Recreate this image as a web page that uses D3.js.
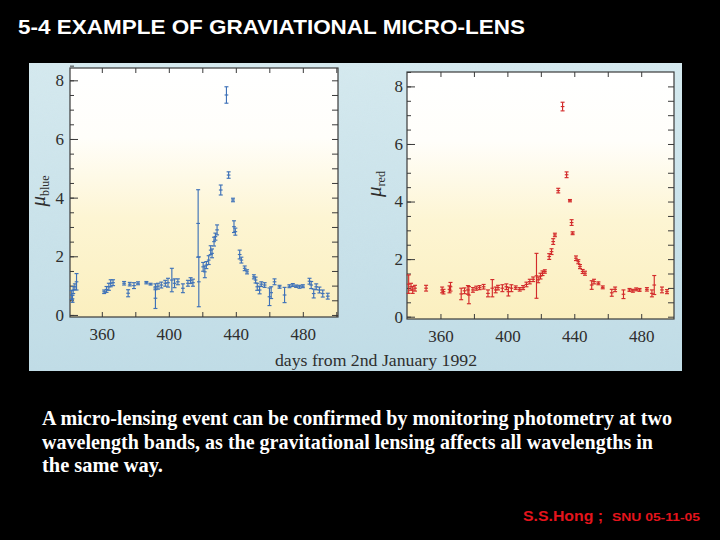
<!DOCTYPE html>
<html>
<head>
<meta charset="utf-8">
<script src="https://cdn.jsdelivr.net/npm/d3@7"></script>
<style>
  html, body { margin: 0; padding: 0; background: #000; }
  svg { display: block; }
</style>
</head>
<body>
<svg id="chart" width="720" height="540"></svg>
<script>
// ---------------- DATA ----------------
const blueDay = [342.0, 342.5, 342.9, 343.9, 344.9, 361.4, 362.8, 364.2, 365.3, 366.7,
  373.3, 375.7, 376.7, 379.2, 381.6, 386.6, 389.1, 392.0, 392.0, 393.5,
  395.5, 397.9, 399.5, 401.8, 403.4, 405.4, 408.4, 411.4, 413.0, 414.4,
  417.5, 417.9, 420.5, 421.5, 422.4, 423.8, 425.0, 425.8, 427.0, 427.8,
  428.8, 431.0, 434.4, 435.7, 438.3, 438.9, 439.7, 442.3, 443.3, 445.3,
  446.7, 450.8, 451.8, 452.8, 454.2, 455.2, 457.2, 460.1, 461.1, 463.1,
  466.1, 469.1, 472.0, 474.0, 476.0, 478.0, 480.0, 484.0, 485.0, 486.5,
  488.0, 489.9, 491.9, 494.9];
const blueVal = [0.68, 0.55, 0.85, 0.96, 1.13, 0.79, 0.87, 0.96, 1.08, 1.10,
  1.08, 0.74, 1.05, 1.00, 1.08, 1.10, 1.05, 0.57, 0.96, 0.98,
  1.02, 1.08, 1.10, 1.19, 1.08, 1.13, 0.91, 1.08, 1.17, 1.10,
  3.12, 1.13, 1.64, 1.47, 1.70, 1.87, 2.21, 2.10, 2.50, 2.67,
  2.90, 4.26, 7.50, 4.77, 3.92, 3.01, 2.84, 2.06, 1.87, 1.59,
  1.47, 1.30, 1.19, 0.96, 0.85, 1.05, 1.02, 0.62, 0.76, 1.13,
  0.96, 0.68, 0.98, 1.02, 0.98, 0.96, 0.98, 1.15, 1.02, 0.73,
  0.96, 0.85, 0.73, 0.64];
const blueErr = [0.15, 0.12, 0.12, 0.10, 0.28, 0.06, 0.10, 0.12, 0.12, 0.10,
  0.06, 0.12, 0.06, 0.10, 0.05, 0.04, 0.03, 0.35, 0.10, 0.10,
  0.10, 0.10, 0.15, 0.40, 0.15, 0.10, 0.15, 0.10, 0.10, 0.12,
  1.15, 0.85, 0.15, 0.20, 0.12, 0.15, 0.15, 0.15, 0.15, 0.12,
  0.17, 0.17, 0.28, 0.11, 0.06, 0.20, 0.12, 0.15, 0.10, 0.08,
  0.07, 0.07, 0.10, 0.12, 0.13, 0.08, 0.08, 0.30, 0.20, 0.10,
  0.05, 0.26, 0.05, 0.05, 0.04, 0.05, 0.05, 0.10, 0.12, 0.15,
  0.10, 0.10, 0.12, 0.10];

const redDay = [341.0, 342.4, 343.4, 344.8, 351.4, 361.0, 361.8, 365.4, 366.0, 372.4,
  374.4, 376.4, 377.0, 379.4, 381.4, 383.4, 385.8, 388.4, 391.0, 393.0,
  394.4, 397.0, 399.4, 400.6, 402.4, 405.0, 407.4, 409.4, 411.4, 413.4,
  415.4, 417.4, 418.4, 419.8, 421.0, 422.4, 425.0, 426.4, 427.4, 428.4,
  430.4, 433.0, 435.4, 437.4, 438.4, 439.0, 441.0, 442.4, 443.4, 445.0,
  446.4, 450.4, 451.8, 454.4, 457.0, 462.4, 464.4, 469.4, 473.0, 475.0,
  477.0, 479.0, 483.4, 486.4, 487.8, 492.4, 495.4];
const redVal = [1.13, 1.04, 0.93, 0.99, 0.99, 0.93, 0.87, 0.95, 1.04, 0.79,
  0.90, 0.93, 0.75, 0.93, 0.99, 1.01, 1.04, 0.81, 0.99, 0.93,
  1.01, 0.99, 1.04, 0.87, 0.99, 1.01, 0.95, 1.01, 1.12, 1.22,
  1.30, 1.42, 1.28, 1.41, 1.51, 1.57, 2.09, 2.26, 2.61, 2.84,
  4.38, 7.30, 4.93, 4.03, 3.27, 2.90, 2.03, 1.91, 1.74, 1.57,
  1.51, 1.10, 1.22, 1.16, 1.02, 0.83, 0.95, 0.78, 0.93, 0.90,
  0.95, 0.93, 0.95, 0.81, 1.10, 0.93, 0.87];
const redErr = [0.32, 0.12, 0.12, 0.10, 0.10, 0.10, 0.08, 0.12, 0.15, 0.20,
  0.10, 0.15, 0.30, 0.08, 0.07, 0.07, 0.08, 0.12, 0.30, 0.10,
  0.08, 0.12, 0.10, 0.15, 0.12, 0.06, 0.06, 0.07, 0.08, 0.08,
  0.08, 0.78, 0.10, 0.10, 0.08, 0.06, 0.10, 0.10, 0.10, 0.06,
  0.08, 0.15, 0.10, 0.04, 0.10, 0.05, 0.08, 0.07, 0.07, 0.07,
  0.07, 0.15, 0.08, 0.05, 0.05, 0.12, 0.08, 0.15, 0.05, 0.05,
  0.05, 0.05, 0.06, 0.12, 0.33, 0.10, 0.07];

const yTickLabels = [0, 2, 4, 6, 8];
const xTickLabels = [360, 400, 440, 480];
const xMinorTicks = [340, 360, 380, 400, 420, 440, 460, 480, 500];

const titleText = "5-4 EXAMPLE OF GRAVIATIONAL MICRO-LENS";
const bodyLines = [
  "A micro-lensing event can be confirmed by monitoring photometry at two",
  "wavelength bands, as the gravitational lensing affects all wavelengths in",
  "the same way."
];
const xAxisTitle = "days from 2nd January 1992";
const footerName = "S.S.Hong ;";
const footerDate = "SNU 05-11-05";

// ---------------- DRAWING ----------------
const svg = d3.select("#chart");
svg.append("rect").attr("width", 720).attr("height", 540).attr("fill", "#000");

const defs = svg.append("defs");
const scanGrad = defs.append("linearGradient").attr("id", "scanGrad")
  .attr("x1", 0).attr("y1", 0).attr("x2", 0).attr("y2", 1);
scanGrad.append("stop").attr("offset", "0%").attr("stop-color", "#d6eaef");
scanGrad.append("stop").attr("offset", "100%").attr("stop-color", "#c0dce6");

const plotGrad = defs.append("linearGradient").attr("id", "plotGrad")
  .attr("x1", 0).attr("y1", 0).attr("x2", 0).attr("y2", 1);
plotGrad.append("stop").attr("offset", "0%").attr("stop-color", "#ffffff");
plotGrad.append("stop").attr("offset", "28%").attr("stop-color", "#fffefa");
plotGrad.append("stop").attr("offset", "60%").attr("stop-color", "#fdf5d3");
plotGrad.append("stop").attr("offset", "100%").attr("stop-color", "#fbefbf");

const noise = defs.append("filter").attr("id", "grain").attr("x", 0).attr("y", 0)
  .attr("width", "100%").attr("height", "100%");
noise.append("feTurbulence").attr("type", "fractalNoise").attr("baseFrequency", 0.9)
  .attr("numOctaves", 1).attr("seed", 3).attr("result", "n");
noise.append("feColorMatrix").attr("in", "n").attr("type", "matrix")
  .attr("values", "0 0 0 0 0.55  0 0 0 0 0.72  0 0 0 0 0.80  0 0 0 0.35 0");

// scanned picture area
svg.append("rect").attr("x", 29).attr("y", 63).attr("width", 653).attr("height", 308)
  .attr("fill", "url(#scanGrad)");
svg.append("rect").attr("x", 29).attr("y", 63).attr("width", 653).attr("height", 308)
  .attr("fill", "#fff").attr("filter", "url(#grain)").attr("opacity", 0.5);

// Title
svg.append("text").attr("x", 18).attr("y", 34)
  .attr("font-family", "Liberation Sans, Arial, sans-serif")
  .attr("font-weight", "bold").attr("font-size", 20).attr("fill", "#fff")
  .attr("textLength", 507).attr("lengthAdjust", "spacingAndGlyphs")
  .text(titleText);

// Body text
const bodyWidths = [630, 611, 121];
bodyLines.forEach((line, i) => {
  svg.append("text").attr("x", 42).attr("y", 425 + i * 23.5)
    .attr("font-family", "Liberation Serif, 'Times New Roman', serif")
    .attr("font-weight", "bold").attr("font-size", 21).attr("fill", "#fff")
    .attr("textLength", bodyWidths[i]).attr("lengthAdjust", "spacingAndGlyphs")
    .text(line);
});

// Footer
svg.append("text").attr("x", 523).attr("y", 521)
  .attr("font-family", "Liberation Sans, Arial, sans-serif").attr("font-weight", "bold")
  .attr("font-size", 14.5).attr("fill", "#e4141c")
  .attr("textLength", 80).attr("lengthAdjust", "spacingAndGlyphs").text(footerName);
svg.append("text").attr("x", 612).attr("y", 521)
  .attr("font-family", "Liberation Sans, Arial, sans-serif").attr("font-weight", "bold")
  .attr("font-size", 11.5).attr("fill", "#e4141c")
  .attr("textLength", 88).attr("lengthAdjust", "spacingAndGlyphs").text(footerDate);

// Panels
function drawPanel(opt) {
  const { x0, x1, y0, y1, xDom, yDom, days, vals, errs, color, labelPad, label, labelPos } = opt;
  const x = d3.scaleLinear().domain(xDom).range([x0, x1]);
  const y = d3.scaleLinear().domain(yDom).range([y1, y0]);
  const g = svg.append("g");

  g.append("rect").attr("x", x0).attr("y", y0).attr("width", x1 - x0).attr("height", y1 - y0)
    .attr("fill", "url(#plotGrad)");

  const tickColor = "#3a3a3a";
  const fontTick = "Liberation Serif, 'Times New Roman', serif";
  const halfTicks = d3.range(0, 8.51, 0.5);

  g.append("g").attr("transform", `translate(${x0},0)`)
    .call(d3.axisLeft(y).tickValues(halfTicks).tickSizeInner(-4).tickSizeOuter(0).tickFormat(""))
    .call(a => a.select(".domain").remove());
  g.append("g").attr("transform", `translate(${x0},0)`)
    .call(d3.axisLeft(y).tickValues(yTickLabels).tickSizeInner(-8).tickSizeOuter(0)
      .tickPadding(labelPad).tickFormat(d3.format("d")))
    .call(a => a.select(".domain").remove())
    .call(a => a.selectAll("text").attr("font-family", fontTick).attr("font-size", 17).attr("fill", "#2e2e2e"));
  g.append("g").attr("transform", `translate(${x1},0)`)
    .call(d3.axisRight(y).tickValues(halfTicks.filter(v => y(v) > y0 + 2)).tickSizeInner(-6).tickSizeOuter(0).tickFormat(""))
    .call(a => a.select(".domain").remove());
  g.append("g").attr("transform", `translate(0,${y1})`)
    .call(d3.axisBottom(x).tickValues(xMinorTicks.filter(v => v > xDom[0] && v < xDom[1]))
      .tickSizeInner(-5).tickSizeOuter(0).tickPadding(11)
      .tickFormat(d => xTickLabels.includes(d) ? d3.format("d")(d) : ""))
    .call(a => a.select(".domain").remove())
    .call(a => a.selectAll("text").attr("font-family", fontTick).attr("font-size", 17).attr("fill", "#2e2e2e"));
  g.append("g").attr("transform", `translate(0,${y0})`)
    .call(d3.axisTop(x).tickValues(xMinorTicks.filter(v => v > xDom[0] && v < xDom[1]))
      .tickSizeInner(-5).tickSizeOuter(0).tickFormat(""))
    .call(a => a.select(".domain").remove());
  g.selectAll(".tick line").attr("stroke", tickColor).attr("stroke-width", 1);

  g.append("rect").attr("x", x0).attr("y", y0).attr("width", x1 - x0).attr("height", y1 - y0)
    .attr("fill", "none").attr("stroke", "#3a3a3a").attr("stroke-width", 1.2);

  const pts = days.map((d, i) => ({ d, v: vals[i], e: errs[i] }));
  const dg = g.append("g").attr("stroke", color).attr("stroke-width", 1.15).attr("fill", "none");
  const cap = 2;
  pts.forEach(p => {
    const cx = x(p.d), top = y(p.v + p.e), bot = y(Math.max(p.v - p.e, yDom[0])), cy = y(p.v);
    dg.append("line").attr("x1", cx).attr("x2", cx).attr("y1", top).attr("y2", bot);
    dg.append("line").attr("x1", cx - cap).attr("x2", cx + cap).attr("y1", top).attr("y2", top);
    dg.append("line").attr("x1", cx - cap).attr("x2", cx + cap).attr("y1", bot).attr("y2", bot);
    dg.append("line").attr("x1", x(p.d - 1.1)).attr("x2", x(p.d + 1.1)).attr("y1", cy).attr("y2", cy);
  });

  const t = g.append("text").attr("transform", `translate(${labelPos[0]},${labelPos[1]}) rotate(-90)`)
    .attr("text-anchor", "middle").attr("font-family", fontTick).attr("fill", "#2e2e2e");
  t.append("tspan").attr("font-style", "italic").attr("font-size", 21).text("μ");
  t.append("tspan").attr("font-size", 12).attr("dy", 4).text(label);
}

drawPanel({
  x0: 70, x1: 338, y0: 68, y1: 317, xDom: [341, 501], yDom: [-0.07, 8.42],
  days: blueDay, vals: blueVal, errs: blueErr, color: "#3f72b8", labelPad: 6,
  label: "blue", labelPos: [45, 191]
});
drawPanel({
  x0: 407, x1: 674, y0: 72, y1: 319, xDom: [340, 499.6], yDom: [-0.08, 8.5],
  days: redDay, vals: redVal, errs: redErr, color: "#d32b2b", labelPad: 4,
  label: "red", labelPos: [381, 184]
});

svg.append("text").attr("x", 275).attr("y", 366)
  .attr("font-family", "Liberation Serif, 'Times New Roman', serif")
  .attr("font-size", 16).attr("fill", "#2e2e2e")
  .attr("textLength", 202).attr("lengthAdjust", "spacingAndGlyphs")
  .text(xAxisTitle);
</script>
</body>
</html>
